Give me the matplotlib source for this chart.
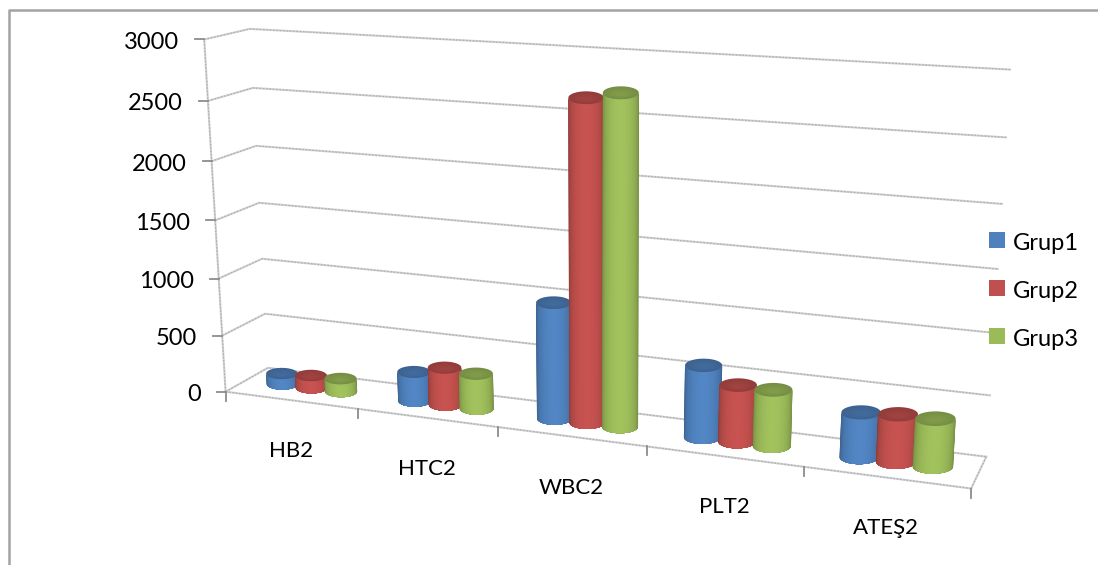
"""
Grouped cylinder chart (Excel style 3D) for Grup1-3.
"""
import numpy as np
from matplotlib import pyplot as plt
from matplotlib.colors import to_rgb
from matplotlib.patches import Polygon, Rectangle

categories = ["HB2", "HTC2", "WBC2", "PLT2", "ATEŞ2"]
grup1 = [95, 255, 985, 600, 365]
grup2 = [110, 325, 2660, 470, 385]
grup3 = [115, 305, 2715, 465, 385]
series_names = ["Grup1", "Grup2", "Grup3"]
series_colors = ["#4F81BD", "#C0504D", "#9BBB59"]
y_ticks = [0, 500, 1000, 1500, 2000, 2500, 3000]
y_max = 3000

GRID = "#d2d2d2"
GRID_DARK = "#adadad"
TICK = "#8c8c8c"
FONT = "Lato"
TEXT = "#000000"

# perspective of the box: (category, depth, value share) -> pixel, fitted once
world = [(0, 0, 0), (0, 0, 1), (0, 1, 0), (0, 1, 1), (5, 1, 0), (5, 1, 1),
         (5, 0, 0), (1, 0, 0), (2, 0, 0), (3, 0, 0)]
screen = [(226, 392), (204, 40), (268, 368), (250, 28), (986, 457), (1010, 70),
          (972, 488), (358, 409), (498, 427), (646, 446)]
rows = []
for (a, b, c), (u, v) in zip(world, screen):
    rows.append([a, b, c, 1, 0, 0, 0, 0, -u * a, -u * b, -u * c, -u])
    rows.append([0, 0, 0, 0, a, b, c, 1, -v * a, -v * b, -v * c, -v])
cam = np.linalg.svd(np.array(rows, dtype=float))[2][-1].reshape(3, 4)


def project(cat, depth, value):
    p = cam @ np.array([cat, depth, value / y_max, 1.0])
    return p[0] / p[2], p[1] / p[2]


def shade(color, f):
    c = np.array(to_rgb(color))
    return tuple(np.clip(c * f, 0, 1))


def grid_line(ax, *points):
    """Rough looking grid line: pale solid line with a darker broken one on top."""
    ax.plot(*zip(*points), color=GRID, lw=1.5, zorder=2)
    ax.plot(*zip(*points), color=GRID_DARK, lw=0.8, ls=(0, (1.5, 1.5)), zorder=2.1)


def cylinder(ax, cat, value, color, zorder):
    """Cylinder as overlapping vertical bands plus a lid, seen slightly from above."""
    bx, by = project(cat, 0.5, 0)
    tx, ty = project(cat, 0.5, value)
    left = project(cat - 0.122, 0.5, 0)[0]
    right = project(cat + 0.122, 0.5, 0)[0]
    rx = (right - left) / 2
    ry = rx * 0.36
    # whole body first in the edge colour, then narrower and narrower bands on top
    for t in np.linspace(0, np.pi / 2, 24):
        f = 0.70 + 0.34 * np.sin(t) ** 0.8
        a = np.linspace(t, np.pi - t, 30)
        low = np.column_stack([bx + rx * np.cos(a), by + ry * np.sin(a)])
        up = np.column_stack([tx + rx * np.cos(a), ty + ry * np.sin(a)])
        pts = np.vstack([low, up[::-1]])
        ax.add_patch(Polygon(pts, closed=True, facecolor=shade(color, f),
                             edgecolor="none", zorder=zorder))
    # lid, dark at the back and slightly lighter towards the front
    t = np.linspace(0, 2 * np.pi, 60)
    for k, scale in enumerate(np.linspace(1, 0.3, 8)):
        f = 0.76 + 0.01 * k
        lid = np.column_stack([tx + rx * scale * np.cos(t),
                               ty + ry * scale * np.sin(t) + ry * (1 - scale) * 0.3])
        ax.add_patch(Polygon(lid, closed=True, facecolor=shade(color, f),
                             edgecolor="none", zorder=zorder + 0.1))


fig, ax = plt.subplots(figsize=(10.98, 5.65), dpi=100)
fig.subplots_adjust(0, 0, 1, 1)
ax.set_xlim(0, 1098)
ax.set_ylim(565, 0)
ax.axis("off")

# outer chart frame, open at the bottom and the right
ax.plot([8.5, 8.5, 1098], [565, 9.5, 9.5], color="#a3a3a3", lw=1.8, zorder=1)

# walls and floor
for val in y_ticks:
    p0 = project(0, 0, val)
    p1 = project(0, 1, val)
    p2 = project(5, 1, val)
    grid_line(ax, p0, p1, p2)
    ax.plot([p0[0] - 9, p0[0]], [p0[1], p0[1]], color=TICK, lw=1.3, zorder=3)
    ax.text(p0[0] - 25, p0[1] + 3, str(val), ha="right", va="center",
            fontsize=17, family=FONT, color=TEXT)
grid_line(ax, project(0, 0, 0), project(0, 0, y_max))
grid_line(ax, project(0, 0, 0), project(5, 0, 0))
grid_line(ax, project(5, 0, 0), project(5, 1, 0))

for i in range(len(categories) + 1):
    x, y = project(i, 0, 0)
    ax.plot([x, x], [y, y + 9], color=TICK, lw=1.3, zorder=3)

for i, name in enumerate(categories):
    x0, y0 = project(i + 0.5, 0, 0)
    ax.text(x0, y0 + 51, name, ha="center", va="center", fontsize=16,
            family=FONT, color=TEXT)

# cylinders
for i in range(len(categories)):
    for s, vals in enumerate([grup1, grup2, grup3]):
        cylinder(ax, i + 0.5 + (s - 1) * 0.225, vals[i], series_colors[s], 5 + s + i * 3)

# legend
for s, name in enumerate(series_names):
    yc = 240 + s * 48
    ax.add_patch(Rectangle((989, yc - 8), 16, 16, facecolor=series_colors[s], zorder=30))
    ax.text(1013, yc + 3, name, ha="left", va="center", fontsize=17, family=FONT,
            color=TEXT, zorder=30)

plt.savefig("out.png", dpi=100)
